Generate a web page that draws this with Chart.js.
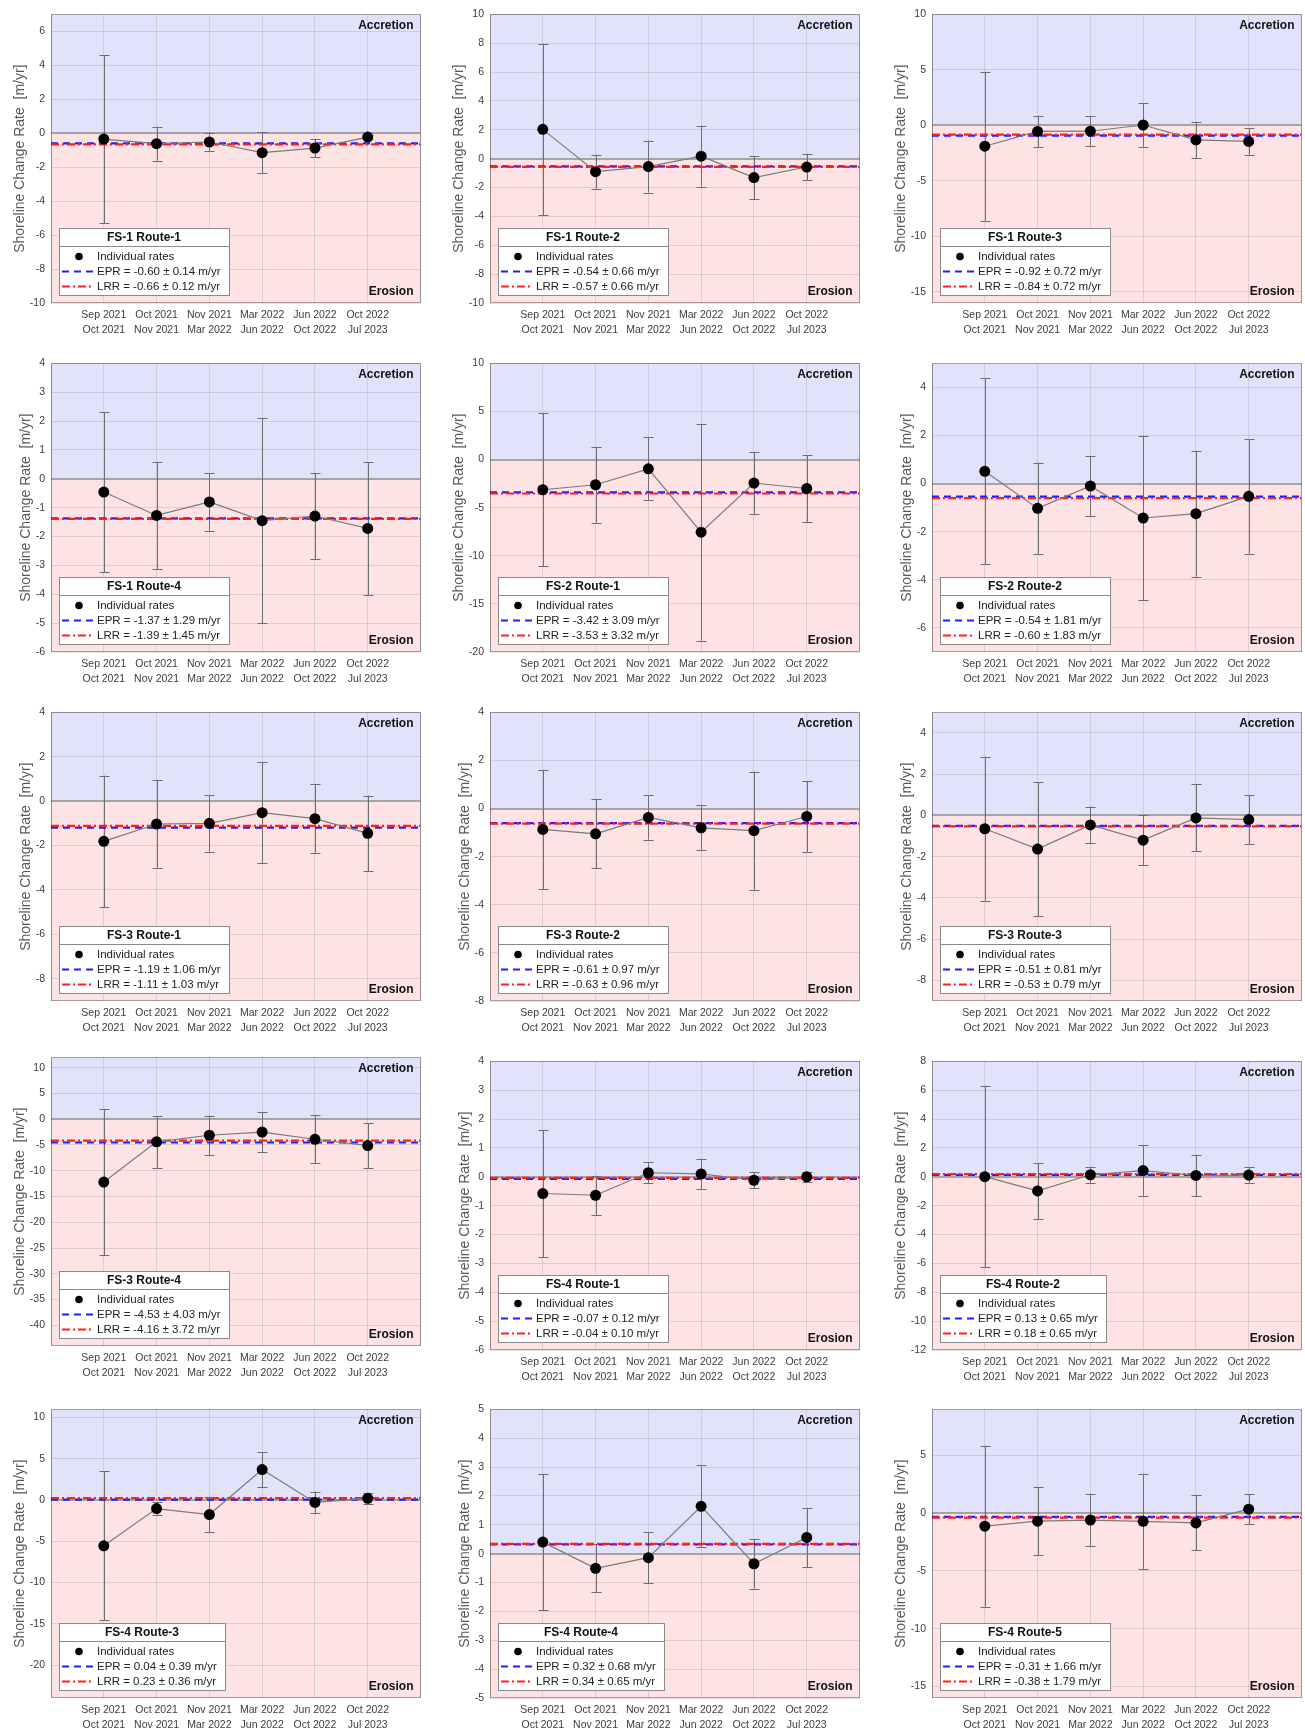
<!DOCTYPE html>
<html>
<head>
<meta charset="utf-8">
<title>Shoreline change rates by route</title>
<script src="https://cdn.jsdelivr.net/npm/chart.js@4/dist/chart.umd.min.js"></script>
<style>
  html, body { margin: 0; padding: 0; background: #ffffff; }
  body { width: 1305px; height: 1733px; position: relative; overflow: hidden; }
  canvas { position: absolute; }
</style>
</head>
<body>
<script>
// ---- survey intervals (two-line tick labels) ----
const PERIOD_START = ['Sep 2021', 'Oct 2021', 'Nov 2021', 'Mar 2022', 'Jun 2022', 'Oct 2022'];
const PERIOD_END   = ['Oct 2021', 'Nov 2021', 'Mar 2022', 'Jun 2022', 'Oct 2022', 'Jul 2023'];

const ROUTES = ['FS-1 Route-1', 'FS-1 Route-2', 'FS-1 Route-3',
                'FS-1 Route-4', 'FS-2 Route-1', 'FS-2 Route-2',
                'FS-3 Route-1', 'FS-3 Route-2', 'FS-3 Route-3',
                'FS-3 Route-4', 'FS-4 Route-1', 'FS-4 Route-2',
                'FS-4 Route-3', 'FS-4 Route-4', 'FS-4 Route-5'];

// ---- individual shoreline change rates (m/yr) and their uncertainties ----
const FS1_R1_RATE = [-0.35, -0.62, -0.52, -1.15, -0.88, -0.23];
const FS1_R1_ERR  = [4.95, 1.00, 0.55, 1.20, 0.55, 0.12];
const FS1_R2_RATE = [2.03, -0.90, -0.55, 0.17, -1.31, -0.58];
const FS1_R2_ERR  = [5.93, 1.18, 1.80, 2.12, 1.50, 0.92];
const FS1_R3_RATE = [-1.88, -0.55, -0.53, 0.03, -1.31, -1.45];
const FS1_R3_ERR  = [6.71, 1.42, 1.33, 1.96, 1.62, 1.19];
const FS1_R4_RATE = [-0.46, -1.27, -0.80, -1.45, -1.29, -1.72];
const FS1_R4_ERR  = [2.77, 1.86, 1.00, 3.56, 1.49, 2.30];
const FS2_R1_RATE = [-3.14, -2.62, -0.97, -7.55, -2.44, -3.01];
const FS2_R1_ERR  = [7.95, 3.94, 3.28, 11.26, 3.20, 3.46];
const FS2_R2_RATE = [0.51, -1.03, -0.10, -1.43, -1.25, -0.53];
const FS2_R2_ERR  = [3.87, 1.89, 1.25, 3.42, 2.62, 2.38];
const FS3_R1_RATE = [-1.81, -1.03, -1.00, -0.52, -0.79, -1.45];
const FS3_R1_ERR  = [2.96, 1.97, 1.27, 2.26, 1.54, 1.70];
const FS3_R2_RATE = [-0.87, -1.05, -0.37, -0.80, -0.92, -0.33];
const FS3_R2_ERR  = [2.48, 1.43, 0.92, 0.94, 2.45, 1.47];
const FS3_R3_RATE = [-0.65, -1.63, -0.46, -1.20, -0.12, -0.20];
const FS3_R3_ERR  = [3.49, 3.25, 0.89, 1.21, 1.63, 1.18];
const FS3_R4_RATE = [-12.20, -4.40, -3.12, -2.50, -3.90, -5.13];
const FS3_R4_ERR  = [14.20, 5.03, 3.82, 3.92, 4.68, 4.33];
const FS4_R1_RATE = [-0.58, -0.64, 0.14, 0.10, -0.12, 0.00];
const FS4_R1_ERR  = [2.20, 0.68, 0.37, 0.53, 0.27, 0.17];
const FS4_R2_RATE = [0.01, -0.98, 0.14, 0.43, 0.09, 0.12];
const FS4_R2_ERR  = [6.29, 1.94, 0.56, 1.75, 1.45, 0.53];
const FS4_R3_RATE = [-5.55, -1.03, -1.76, 3.69, -0.29, 0.21];
const FS4_R3_ERR  = [9.01, 0.83, 2.17, 2.11, 1.32, 0.69];
const FS4_R4_RATE = [0.40, -0.51, -0.14, 1.64, -0.35, 0.56];
const FS4_R4_ERR  = [2.36, 0.83, 0.89, 1.42, 0.86, 1.03];
const FS4_R5_RATE = [-1.12, -0.69, -0.59, -0.70, -0.84, 0.35];
const FS4_R5_ERR  = [6.96, 2.93, 2.28, 4.13, 2.38, 1.28];

const RATES = [FS1_R1_RATE, FS1_R2_RATE, FS1_R3_RATE, FS1_R4_RATE, FS2_R1_RATE,
               FS2_R2_RATE, FS3_R1_RATE, FS3_R2_RATE, FS3_R3_RATE, FS3_R4_RATE,
               FS4_R1_RATE, FS4_R2_RATE, FS4_R3_RATE, FS4_R4_RATE, FS4_R5_RATE];
const RATE_ERRS = [FS1_R1_ERR, FS1_R2_ERR, FS1_R3_ERR, FS1_R4_ERR, FS2_R1_ERR,
                   FS2_R2_ERR, FS3_R1_ERR, FS3_R2_ERR, FS3_R3_ERR, FS3_R4_ERR,
                   FS4_R1_ERR, FS4_R2_ERR, FS4_R3_ERR, FS4_R4_ERR, FS4_R5_ERR];

// ---- end point rate and linear regression rate per route ----
const EPR     = [-0.60, -0.54, -0.92, -1.37, -3.42, -0.54, -1.19, -0.61, -0.51, -4.53, -0.07, 0.13, 0.04, 0.32, -0.31];
const EPR_ERR = [0.14, 0.66, 0.72, 1.29, 3.09, 1.81, 1.06, 0.97, 0.81, 4.03, 0.12, 0.65, 0.39, 0.68, 1.66];
const LRR     = [-0.66, -0.57, -0.84, -1.39, -3.53, -0.60, -1.11, -0.63, -0.53, -4.16, -0.04, 0.18, 0.23, 0.34, -0.38];
const LRR_ERR = [0.12, 0.66, 0.72, 1.45, 3.32, 1.83, 1.03, 0.96, 0.79, 3.72, 0.10, 0.65, 0.36, 0.65, 1.79];

// ---- y-axis limits and tick spacing per route ----
const Y_MIN  = [-10, -10, -16, -6, -20, -7, -9, -8, -9, -44, -6, -12, -24, -5, -16];
const Y_MAX  = [7, 10, 10, 4, 10, 5, 4, 4, 5, 12, 4, 8, 11, 5, 9];
const Y_STEP = [2, 2, 5, 1, 5, 2, 2, 2, 2, 5, 1, 2, 5, 1, 5];

// ---- styling and layout ----
const FONT = '"Liberation Sans", Arial, Helvetica, sans-serif';
const ACCRETION_FILL = '#e2e2fb';
const EROSION_FILL = '#fde3e3';
const GRID = 'rgba(0,0,0,0.10)';
const ZERO_COLOR = '#8e8e8e';
const EPR_COLOR = '#1f1fff';
const LRR_COLOR = '#ff1f1f';
const EPR_DASH = [7, 5];
const LRR_DASH = [8, 3, 2, 3];

const COL_LEFT = [51, 490, 932];
const ROW_TOP = [10, 359, 708, 1057, 1405];
const TOP_SHIFT = { 9: -4 };
const PLOT_W = 371, PLOT_H = 293;
const AXIS_W = 50, X_AXIS_H = 42, PAD_T = 8, PAD_R = 4;

Chart.defaults.font.family = FONT;

const measureCtx = document.createElement('canvas').getContext('2d');
function textWidth(str, font) { measureCtx.font = font; return measureCtx.measureText(str).width; }
const fmt = v => v.toFixed(2);

// tick values at whole multiples of the step inside the axis limits
function yTickValues(i) {
  const out = [];
  for (let v = Math.ceil(Y_MIN[i] / Y_STEP[i]) * Y_STEP[i]; v <= Y_MAX[i]; v += Y_STEP[i]) out.push(v);
  return out;
}

function drawLegend(ctx, a, i) {
  const lines = ['Individual rates',
                 `EPR = ${fmt(EPR[i])} ± ${fmt(EPR_ERR[i])} m/yr`,
                 `LRR = ${fmt(LRR[i])} ± ${fmt(LRR_ERR[i])} m/yr`];
  const entryFont = `11.5px ${FONT}`;
  const maxW = Math.max(...lines.map(s => textWidth(s, entryFont)));
  const bw = Math.round(38 + maxW + 8), bh = 67;
  const bx = Math.round(a.left) + 8, by = Math.round(a.bottom) - 8 - bh;

  ctx.save();
  ctx.fillStyle = '#ffffff';
  ctx.fillRect(bx, by, bw, bh);
  ctx.strokeStyle = '#8a8a8a';
  ctx.lineWidth = 1;
  ctx.strokeRect(bx + 0.5, by + 0.5, bw, bh);
  ctx.beginPath();
  ctx.moveTo(bx, by + 18.5);
  ctx.lineTo(bx + bw, by + 18.5);
  ctx.stroke();

  ctx.fillStyle = '#111111';
  ctx.font = `bold 12px ${FONT}`;
  ctx.textAlign = 'center';
  ctx.textBaseline = 'middle';
  ctx.fillText(ROUTES[i], bx + bw / 2, by + 10);

  const rowY = [by + 28.5, by + 43.5, by + 58.5];
  ctx.fillStyle = '#000000';
  ctx.beginPath();
  ctx.arc(bx + 20, rowY[0], 3.8, 0, Math.PI * 2);
  ctx.fill();

  ctx.lineWidth = 2;
  ctx.strokeStyle = EPR_COLOR;
  ctx.setLineDash(EPR_DASH);
  ctx.beginPath(); ctx.moveTo(bx + 3, rowY[1]); ctx.lineTo(bx + 35, rowY[1]); ctx.stroke();
  ctx.strokeStyle = LRR_COLOR;
  ctx.setLineDash(LRR_DASH);
  ctx.beginPath(); ctx.moveTo(bx + 3, rowY[2]); ctx.lineTo(bx + 35, rowY[2]); ctx.stroke();
  ctx.setLineDash([]);

  ctx.fillStyle = '#222222';
  ctx.font = entryFont;
  ctx.textAlign = 'left';
  lines.forEach((s, k) => ctx.fillText(s, bx + 38, rowY[k] + 0.5));
  ctx.restore();
}

// shaded accretion / erosion bands, zero line, error bars, frame, corner labels and legend box
const panelDecor = {
  id: 'panelDecor',
  beforeDraw(chart) {
    const { ctx, chartArea: a, scales: { y } } = chart;
    const y0 = y.getPixelForValue(0);
    ctx.save();
    ctx.fillStyle = ACCRETION_FILL;
    ctx.fillRect(a.left, a.top, a.width, y0 - a.top);
    ctx.fillStyle = EROSION_FILL;
    ctx.fillRect(a.left, y0, a.width, a.bottom - y0);
    ctx.restore();
  },
  beforeDatasetsDraw(chart, args, opts) {
    const i = opts.idx;
    const { ctx, chartArea: a, scales: { x, y } } = chart;
    ctx.save();
    const y0 = Math.round(y.getPixelForValue(0));
    ctx.strokeStyle = ZERO_COLOR;
    ctx.lineWidth = 1.4;
    ctx.beginPath();
    ctx.moveTo(a.left, y0); ctx.lineTo(a.right, y0);
    ctx.stroke();

    ctx.strokeStyle = '#6e6e6e';
    ctx.lineWidth = 1;
    RATES[i].forEach((v, k) => {
      const px = Math.round(x.getPixelForValue(k + 1)) + 0.5;
      const top = y.getPixelForValue(v + RATE_ERRS[i][k]);
      const bot = y.getPixelForValue(v - RATE_ERRS[i][k]);
      ctx.beginPath();
      ctx.moveTo(px, top); ctx.lineTo(px, bot);
      ctx.moveTo(px - 5, Math.round(top) + 0.5); ctx.lineTo(px + 5, Math.round(top) + 0.5);
      ctx.moveTo(px - 5, Math.round(bot) + 0.5); ctx.lineTo(px + 5, Math.round(bot) + 0.5);
      ctx.stroke();
    });
    ctx.restore();
  },
  afterDraw(chart, args, opts) {
    const i = opts.idx;
    const { ctx, chartArea: a } = chart;
    ctx.save();
    ctx.strokeStyle = 'rgba(0,0,0,0.32)';
    ctx.lineWidth = 1;
    ctx.strokeRect(Math.round(a.left) + 0.5, Math.round(a.top) + 0.5, Math.round(a.width) - 1, Math.round(a.height) - 1);
    ctx.fillStyle = '#111111';
    ctx.font = `bold 12px ${FONT}`;
    ctx.textAlign = 'right';
    ctx.textBaseline = 'middle';
    ctx.fillText('Accretion', a.right - 7, a.top + 11);
    ctx.fillText('Erosion', a.right - 7, a.bottom - 11);
    ctx.restore();
    drawLegend(ctx, a, i);
  }
};

ROUTES.forEach((name, i) => {
  const col = i % 3, row = Math.floor(i / 3);
  const plotLeft = COL_LEFT[col];
  const plotTop = ROW_TOP[row] + (TOP_SHIFT[i] || 0);

  const canvas = document.createElement('canvas');
  canvas.width = AXIS_W + PLOT_W + PAD_R;
  canvas.height = PAD_T + PLOT_H + X_AXIS_H;
  canvas.style.left = (plotLeft - AXIS_W) + 'px';
  canvas.style.top = (plotTop - PAD_T) + 'px';
  document.body.appendChild(canvas);

  // place the rotated axis title just outside the widest tick label
  const tickFont = `10.5px ${FONT}`;
  const yTicks = yTickValues(i);
  const widest = Math.max(...yTicks.map(v => textWidth(String(v), tickFont)));
  const titlePad = Math.max(0, AXIS_W - (16 + widest) - 14 * 1.2 / 2);

  const ratePoints = RATES[i].map((v, k) => ({ x: k + 1, y: v }));
  const eprLine = [{ x: 0, y: EPR[i] }, { x: 7, y: EPR[i] }];
  const lrrLine = [{ x: 0, y: LRR[i] }, { x: 7, y: LRR[i] }];

  new Chart(canvas, {
    type: 'scatter',
    data: {
      datasets: [
        { label: 'Individual rates', data: ratePoints, showLine: true,
          borderColor: '#7a7a7a', borderWidth: 1.2,
          pointRadius: 5.5, pointBackgroundColor: '#000000', pointBorderColor: '#000000', pointBorderWidth: 0,
          order: 0 },
        { label: 'LRR', data: lrrLine, showLine: true, borderColor: LRR_COLOR, borderWidth: 2.2,
          borderDash: LRR_DASH, pointRadius: 0, order: 1 },
        { label: 'EPR', data: eprLine, showLine: true, borderColor: EPR_COLOR, borderWidth: 2.2,
          borderDash: EPR_DASH, pointRadius: 0, order: 2 }
      ]
    },
    options: {
      responsive: false,
      animation: false,
      events: [],
      layout: { padding: { top: PAD_T, right: PAD_R, left: 0, bottom: 0 } },
      plugins: {
        legend: { display: false },
        tooltip: { enabled: false },
        panelDecor: { idx: i }
      },
      scales: {
        x: {
          type: 'linear', min: 0, max: 7,
          afterFit: s => { s.height = X_AXIS_H; },
          ticks: {
            stepSize: 1, autoSkip: false, maxRotation: 0, minRotation: 0, padding: 4.5,
            color: '#3c3c3c', font: { size: 10.5, lineHeight: 15 / 10.5 },
            callback: v => (v >= 1 && v <= 6) ? [PERIOD_START[v - 1], PERIOD_END[v - 1]] : ''
          },
          grid: { color: GRID, drawTicks: false },
          border: { display: false }
        },
        y: {
          type: 'linear', min: Y_MIN[i], max: Y_MAX[i],
          afterFit: s => { s.width = AXIS_W; },
          afterBuildTicks: s => { s.ticks = yTicks.map(v => ({ value: v })); },
          ticks: {
            autoSkip: false, padding: 6,
            color: '#3c3c3c', font: { size: 10.5 },
            callback: v => String(v)
          },
          grid: {
            color: c => (c.tick && c.tick.value === 0) ? 'rgba(0,0,0,0)' : GRID,
            drawTicks: false
          },
          border: { display: false },
          title: {
            display: true, text: 'Shoreline Change Rate  [m/yr]',
            color: '#595959', font: { size: 14 },
            padding: { top: titlePad, bottom: 0 }
          }
        }
      }
    },
    plugins: [panelDecor]
  });
});
</script>
</body>
</html>
